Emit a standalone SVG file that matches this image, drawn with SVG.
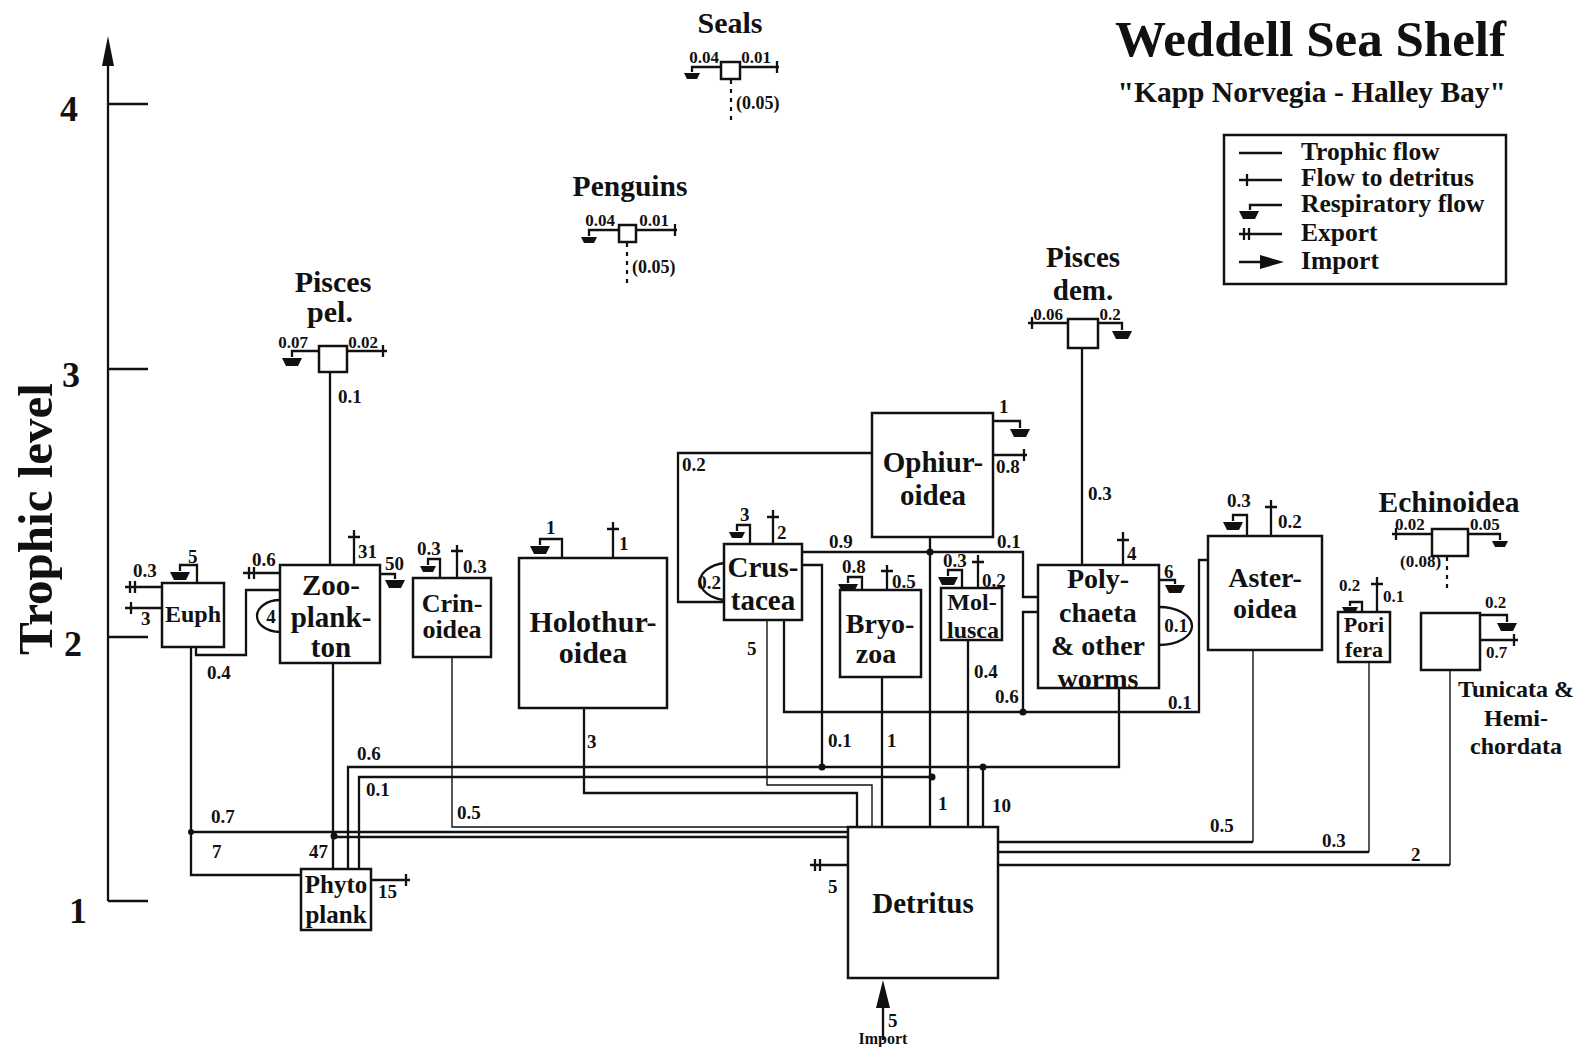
<svg xmlns="http://www.w3.org/2000/svg" width="1587" height="1047" viewBox="0 0 1587 1047">
<style>
text{font-family:"Liberation Serif","Times New Roman",serif;font-weight:bold;fill:#111}
.n{font-size:19px}
.s{font-size:17px}
.m{text-anchor:middle}
.box{fill:#fff;stroke:#111;stroke-width:2.5}
.ln{fill:none;stroke:#111;stroke-width:2.3}
.th{fill:none;stroke:#111;stroke-width:1.4}
.dt{fill:none;stroke:#111;stroke-width:2.2;stroke-dasharray:4 5}
.dot{fill:#111}
</style>
<defs>
<path id="gnd" d="M-10,0 H10 L6,8 H-6 Z" fill="#111"/>
<path id="gnds" d="M-8,0 H8 L5,6 H-5 Z" fill="#111"/>
</defs>
<rect width="1587" height="1047" fill="#fff"/>

<g id="axis">
<path class="ln" d="M108,901 V62 M108,104 H148 M108,369 H148 M108,637 H148 M108,901 H148"/>
<polygon points="108,36 102,66 114,66" fill="#111"/>
<text x="69" y="121" font-size="36" class="m">4</text>
<text x="71" y="387" font-size="36" class="m">3</text>
<text x="73" y="656" font-size="36" class="m">2</text>
<text x="78" y="923" font-size="36" class="m">1</text>
<text transform="translate(52,519) rotate(-90)" font-size="49" class="m">Trophic level</text>
</g>

<g id="title">
<text x="1506" y="56" font-size="51" text-anchor="end">Weddell Sea Shelf</text>
<text x="1506" y="102" font-size="29.5" text-anchor="end">"Kapp Norvegia - Halley Bay"</text>
</g>

<g id="legend">
<rect x="1224" y="135" width="282" height="149" fill="none" stroke="#111" stroke-width="2.5"/>
<path class="ln" d="M1239,153 H1282 M1239,180 H1282 M1247,174 V186 M1282,205 H1250 V210 M1239,234 H1282 M1244,228 V240 M1249,228 V240 M1239,262 H1264"/>
<use href="#gnd" x="1249" y="211"/>
<polygon points="1284,262 1260,255 1260,269" fill="#111"/>
<text x="1301" y="160" font-size="25.5">Trophic flow</text>
<text x="1301" y="186" font-size="25.5">Flow to detritus</text>
<text x="1301" y="212" font-size="25.5">Respiratory flow</text>
<text x="1301" y="241" font-size="25.5">Export</text>
<text x="1301" y="269" font-size="25.5">Import</text>
</g>

<g id="connectors">
<path class="ln" d="M301,875 H191 V648"/>
<path class="ln" d="M191,832 H848"/>
<path class="ln" d="M196,648 V655 H246 V590 H280"/>
<path class="ln" d="M330,372 V565"/>
<path class="ln" d="M333,663 V869"/>
<path class="ln" d="M334,837 H848"/>
<path class="ln" d="M348,869 V767 H1119 V688"/>
<path class="ln" d="M359,869 V777 H932"/>
<path class="th" d="M452,657 V827 H848"/>
<path class="ln" d="M584,708 V793 H857 V827"/>
<path class="th" d="M767,620 V785 H872 V827"/>
<path class="ln" d="M802,565 H822 V767"/>
<path class="ln" d="M784,620 V712 H1199 V560 H1208"/>
<path class="ln" d="M882,677 V827"/>
<path class="ln" d="M930,537 V827"/>
<path class="ln" d="M968,640 V827"/>
<path class="ln" d="M983,827 V767"/>
<path class="ln" d="M802,552 H1023 V597 H1038"/>
<path class="ln" d="M1038,612 H1023 V712"/>
<path class="ln" d="M872,453 H678 V602 H724"/>
<path class="ln" d="M1082,348 V565"/>
<path class="th" d="M1253,650 V842"/>
<path class="ln" d="M1253,842 H998"/>
<path class="th" d="M1369,662 V852"/>
<path class="ln" d="M1369,852 H998"/>
<path class="th" d="M1450,670 V865"/>
<path class="ln" d="M1450,865 H998"/>
<circle class="dot" cx="191" cy="832" r="3"/>
<circle class="dot" cx="334" cy="836" r="3.5"/>
<circle class="dot" cx="822" cy="767" r="3.5"/>
<circle class="dot" cx="932" cy="777" r="3.5"/>
<circle class="dot" cx="983" cy="767" r="3.5"/>
<circle class="dot" cx="930" cy="552" r="3.5"/>
<circle class="dot" cx="1023" cy="712" r="3.5"/>
<text class="n" x="207" y="679">0.4</text>
<text class="n" x="211" y="823">0.7</text>
<text class="n" x="212" y="858">7</text>
<text class="n" x="309" y="858">47</text>
<text class="n" x="357" y="760">0.6</text>
<text class="n" x="366" y="796">0.1</text>
<text class="n" x="457" y="819">0.5</text>
<text class="n" x="338" y="403">0.1</text>
<text class="n" x="587" y="748">3</text>
<text class="n" x="747" y="655">5</text>
<text class="n" x="828" y="747">0.1</text>
<text class="n" x="887" y="747">1</text>
<text class="n" x="938" y="810">1</text>
<text class="n" x="992" y="812">10</text>
<text class="n" x="974" y="678">0.4</text>
<text class="n" x="995" y="703">0.6</text>
<text class="n" x="1168" y="709">0.1</text>
<text class="n" x="682" y="471">0.2</text>
<text class="n" x="829" y="548">0.9</text>
<text class="n" x="997" y="548">0.1</text>
<text class="n" x="1088" y="500">0.3</text>
<text class="n" x="1210" y="832">0.5</text>
<text class="n" x="1322" y="847">0.3</text>
<text class="n" x="1411" y="861">2</text>
</g>

<g id="seals">
<text x="730" y="33" font-size="30" class="m">Seals</text>
<path class="ln" d="M721,67 H692 V72 M740,67 H779 M777,61 V73"/>
<use href="#gnds" x="692" y="73"/>
<rect class="box" x="721" y="62" width="19" height="17"/>
<path class="dt" d="M731,80 V125"/>
<text class="s m" x="704" y="63">0.04</text>
<text class="s m" x="756" y="63">0.01</text>
<text x="736" y="109" font-size="18">(0.05)</text>
</g>

<g id="penguins">
<text x="630" y="196" font-size="29.5" class="m">Penguins</text>
<path class="ln" d="M619,230 H589 V236 M636,230 H677 M675,224 V236"/>
<use href="#gnds" x="589" y="237"/>
<rect class="box" x="619" y="225" width="17" height="17"/>
<path class="dt" d="M627,243 V287"/>
<text class="s m" x="600" y="226">0.04</text>
<text class="s m" x="654" y="226">0.01</text>
<text x="632" y="273" font-size="18">(0.05)</text>
</g>

<g id="pisces-pel">
<text x="333" y="292" font-size="30" class="m">Pisces</text>
<text x="330" y="322" font-size="30" class="m">pel.</text>
<path class="ln" d="M319,351 H292 V357 M347,351 H387 M383,345 V357"/>
<use href="#gnd" x="292" y="358"/>
<rect class="box" x="319" y="346" width="28" height="26"/>
<text class="s m" x="293" y="348">0.07</text>
<text class="s m" x="363" y="348">0.02</text>
</g>

<g id="pisces-dem">
<text x="1083" y="267" font-size="29" class="m">Pisces</text>
<text x="1083" y="300" font-size="29" class="m">dem.</text>
<path class="ln" d="M1068,323 H1028 M1032,317 V329 M1098,323 H1122 V330"/>
<use href="#gnd" x="1122" y="331"/>
<rect class="box" x="1068" y="319" width="30" height="29"/>
<text class="s m" x="1048" y="320">0.06</text>
<text class="s m" x="1110" y="320">0.2</text>
</g>

<g id="euph">
<path class="ln" d="M197,583 V565 H180 V571 M162,587 H125 M130,581 V593 M135,581 V593 M162,608 H125 M131,602 V614"/>
<use href="#gnd" x="180" y="572"/>
<rect class="box" x="162" y="583" width="62" height="64"/>
<text x="193" y="622" font-size="24" class="m">Euph</text>
<text class="n" x="188" y="563">5</text>
<text class="n" x="133" y="577">0.3</text>
<text class="n" x="141" y="625">3</text>
</g>

<g id="zooplankton">
<path class="ln" d="M354,565 V530 M348,537 H360 M380,574 H395 V579 M280,573 H243 M249,567 V579 M254,567 V579"/>
<use href="#gnd" x="395" y="580"/>
<path class="ln" d="M280,600 A23,16 0 0 0 280,632"/>
<rect class="box" x="280" y="565" width="100" height="98"/>
<text x="331" y="595" font-size="29" class="m">Zoo-</text>
<text x="331" y="627" font-size="29" class="m">plank-</text>
<text x="331" y="657" font-size="29" class="m">ton</text>
<text class="n" x="358" y="558">31</text>
<text class="n" x="385" y="570">50</text>
<text class="n" x="252" y="566">0.6</text>
<text class="n m" x="271" y="623">4</text>
</g>

<g id="phytoplankton">
<path class="ln" d="M371,880 H410 M406,874 V886"/>
<rect class="box" x="301" y="869" width="70" height="61"/>
<text x="336" y="893" font-size="25" class="m">Phyto</text>
<text x="336" y="923" font-size="25" class="m">plank</text>
<text class="n" x="378" y="898">15</text>
</g>

<g id="crinoidea">
<path class="ln" d="M440,578 V559 H428 V565 M457,578 V545 M451,551 H463"/>
<use href="#gnds" x="428" y="566"/>
<rect class="box" x="413" y="578" width="78" height="79"/>
<text x="452" y="612" font-size="26" class="m">Crin-</text>
<text x="452" y="638" font-size="26" class="m">oidea</text>
<text class="n" x="417" y="555">0.3</text>
<text class="n" x="463" y="573">0.3</text>
</g>

<g id="holothuroidea">
<path class="ln" d="M562,558 V539 H540 V545 M613,558 V522 M607,529 H619"/>
<use href="#gnd" x="540" y="546"/>
<rect class="box" x="519" y="558" width="148" height="150"/>
<text x="593" y="632" font-size="30" class="m">Holothur-</text>
<text x="593" y="663" font-size="30" class="m">oidea</text>
<text class="n" x="546" y="534">1</text>
<text class="n" x="619" y="550">1</text>
</g>

<g id="ophiuroidea">
<path class="ln" d="M993,421 H1020 V428 M993,455 H1027 M1024,449 V461"/>
<use href="#gnd" x="1020" y="429"/>
<rect class="box" x="872" y="413" width="121" height="124"/>
<text x="933" y="472" font-size="29" class="m">Ophiur-</text>
<text x="933" y="505" font-size="29" class="m">oidea</text>
<text class="n" x="999" y="413">1</text>
<text class="n" x="996" y="473">0.8</text>
</g>

<g id="crustacea">
<path class="ln" d="M750,544 V525 H737 V531 M773,544 V510 M767,517 H779"/>
<use href="#gnds" x="737" y="532"/>
<path class="ln" d="M724,563 A31,19 0 0 0 724,600"/>
<rect class="box" x="724" y="544" width="78" height="76"/>
<text x="763" y="577" font-size="29" class="m">Crus-</text>
<text x="763" y="610" font-size="29" class="m">tacea</text>
<text class="n" x="740" y="521">3</text>
<text class="n" x="777" y="539">2</text>
<text class="n m" x="709" y="589">0.2</text>
</g>

<g id="bryozoa">
<path class="ln" d="M862,590 V577 H848 V583 M887,590 V565 M881,571 H893"/>
<use href="#gnd" x="848" y="584"/>
<rect class="box" x="840" y="590" width="81" height="87"/>
<text x="880" y="633" font-size="28" class="m">Bryo-</text>
<text x="876" y="663" font-size="28" class="m">zoa</text>
<text class="n" x="842" y="573">0.8</text>
<text class="n" x="892" y="588">0.5</text>
</g>

<g id="mollusca">
<path class="ln" d="M962,588 V570 H948 V576 M978,588 V555 M972,562 H984"/>
<use href="#gnd" x="948" y="577"/>
<rect class="box" x="941" y="588" width="61" height="52"/>
<text x="972" y="610" font-size="24" class="m">Mol-</text>
<text x="973" y="638" font-size="24" class="m">lusca</text>
<text class="n" x="943" y="567">0.3</text>
<text class="n" x="982" y="587">0.2</text>
</g>

<g id="polychaeta">
<path class="ln" d="M1123,565 V532 M1117,540 H1129 M1159,580 H1175 V584"/>
<use href="#gnd" x="1175" y="585"/>
<path class="ln" d="M1159,607 A33,19 0 0 1 1159,645"/>
<rect class="box" x="1038" y="565" width="121" height="123"/>
<text x="1098" y="588" font-size="28" class="m">Poly-</text>
<text x="1098" y="622" font-size="28" class="m">chaeta</text>
<text x="1098" y="655" font-size="28" class="m">&amp; other</text>
<text x="1098" y="688" font-size="28" class="m">worms</text>
<text class="n" x="1127" y="560">4</text>
<text class="n" x="1164" y="578">6</text>
<text class="n m" x="1176" y="632">0.1</text>
</g>

<g id="asteroidea">
<path class="ln" d="M1247,536 V515 H1233 V521 M1271,536 V500 M1265,507 H1277"/>
<use href="#gnd" x="1233" y="522"/>
<rect class="box" x="1208" y="536" width="114" height="114"/>
<text x="1265" y="587" font-size="28" class="m">Aster-</text>
<text x="1265" y="618" font-size="28" class="m">oidea</text>
<text class="n" x="1227" y="507">0.3</text>
<text class="n" x="1278" y="528">0.2</text>
</g>

<g id="porifera">
<path class="ln" d="M1362,612 V602 H1350 V606 M1377,612 V577 M1371,584 H1383"/>
<use href="#gnds" x="1350" y="607"/>
<rect class="box" x="1338" y="612" width="52" height="50"/>
<text x="1364" y="632" font-size="22" class="m">Pori</text>
<text x="1364" y="657" font-size="22" class="m">fera</text>
<text class="s" x="1339" y="591">0.2</text>
<text class="s" x="1383" y="602">0.1</text>
</g>

<g id="tunicata">
<path class="ln" d="M1480,615 H1507 V622 M1480,640 H1518 M1514,634 V646"/>
<use href="#gnd" x="1507" y="623"/>
<rect class="box" x="1421" y="613" width="59" height="57"/>
<text class="s" x="1485" y="608">0.2</text>
<text class="s" x="1486" y="658">0.7</text>
<text x="1516" y="697" font-size="24" class="m">Tunicata &amp;</text>
<text x="1516" y="726" font-size="24" class="m">Hemi-</text>
<text x="1516" y="754" font-size="24" class="m">chordata</text>
</g>

<g id="echinoidea">
<text x="1449" y="512" font-size="29.5" class="m">Echinoidea</text>
<path class="ln" d="M1432,534 H1392 M1396,528 V540 M1468,534 H1500 V540"/>
<use href="#gnds" x="1500" y="541"/>
<rect class="box" x="1432" y="529" width="36" height="27"/>
<path class="dt" d="M1447,557 V592"/>
<text class="s" x="1395" y="530">0.02</text>
<text class="s" x="1470" y="530">0.05</text>
<text class="s" x="1400" y="567">(0.08)</text>
</g>

<g id="detritus">
<path class="ln" d="M848,865 H810 M815,859 V871 M820,859 V871 M883,1040 V1004"/>
<polygon points="883,980 876,1008 890,1008" fill="#111"/>
<rect class="box" x="848" y="827" width="150" height="151"/>
<text x="923" y="913" font-size="29" class="m">Detritus</text>
<text class="n" x="828" y="893">5</text>
<text class="n" x="888" y="1027">5</text>
<text x="883" y="1044" font-size="16" class="m">Import</text>
</g>
</svg>
